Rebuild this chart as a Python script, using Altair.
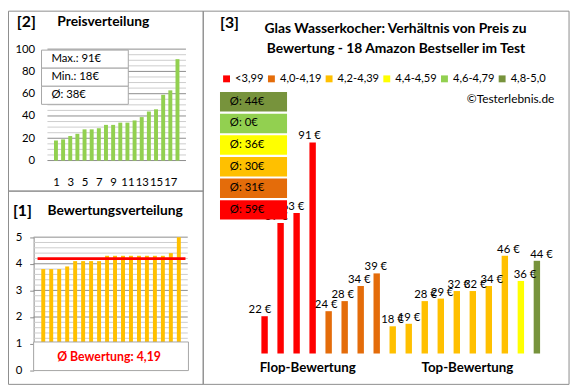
import altair as alt
import pandas as pd

# ---------------- data ----------------
rank = [1, 2, 3, 4, 5, 6, 7, 8, 9, 10, 11, 12, 13, 14, 15, 16, 17, 18]
prices_sorted = [18, 19, 22, 24, 28, 28, 29, 32, 32, 34, 34, 36, 39, 44, 46, 59, 63, 91]
ratings_sorted = [3.8, 3.8, 3.8, 3.9, 4.1, 4.1, 4.1, 4.1, 4.3, 4.3, 4.3, 4.3, 4.3, 4.3, 4.3, 4.3, 4.4, 5.0]
product_prices = [22, 59, 63, 91, 24, 28, 34, 39, 18, 19, 28, 29, 32, 32, 34, 46, 36, 44]
product_class = ["<3,99", "<3,99", "<3,99", "<3,99",
                 "4,0-4,19", "4,0-4,19", "4,0-4,19", "4,0-4,19",
                 "4,2-4,39", "4,2-4,39", "4,2-4,39", "4,2-4,39",
                 "4,2-4,39", "4,2-4,39", "4,2-4,39", "4,2-4,39",
                 "4,4-4,59", "4,8-5,0"]
classes = ["<3,99", "4,0-4,19", "4,2-4,39", "4,4-4,59", "4,6-4,79", "4,8-5,0"]
class_colors = ["#FF0000", "#E46C0A", "#FFC000", "#FFFF00", "#92D050", "#77933C"]

price_ticks = [0, 20, 40, 60, 80, 100]
price_minor = [5, 10, 15, 25, 30, 35, 45, 50, 55, 65, 70, 75, 85, 90, 95]
price_x_ticks = [1, 3, 5, 7, 9, 11, 13, 15, 17]
rating_ticks = [0, 1, 2, 3, 4, 5]
rating_major = [1, 2, 3, 4, 5]
rating_minor = [1.2, 1.4, 1.6, 1.8, 2.2, 2.4, 2.6, 2.8, 3.2, 3.4, 3.6, 3.8,
                4.2, 4.4, 4.6, 4.8]

# ---------------- style ----------------
FONT = "Lato"
BORDER = "#8c8c8c"
GMAJ = "#8c8c8c"
GMIN = "#cccccc"
W, H = 572, 382


def P(v):
    return v - 8


def one(**kw):
    return pd.DataFrame([kw])


def label(text, x, y, size, bold=True, align="left", color="black"):
    return alt.Chart(one(t=text)).mark_text(
        font=FONT, fontSize=size, fontWeight="bold" if bold else "normal",
        align=align, baseline="middle", color=color
    ).encode(x=alt.value(x), y=alt.value(y), text="t:N")


def box(x1, x2, y1, y2, fill="white", stroke=BORDER, op=1):
    return alt.Chart(one(a=1)).mark_rect(
        fill=fill, fillOpacity=op, stroke=stroke, strokeWidth=1
    ).encode(x=alt.value(x1), x2=alt.value(x2), y=alt.value(y1), y2=alt.value(y2))


layers = []

# ---------------- borders ----------------
layers += [
    box(0.5, P(206), 0.5, P(191), op=0),
    box(0.5, P(206), P(191), P(387), op=0),
    box(P(206), P(577), 0.5, P(387), op=0),
]

# ---------------- panel 2: Preisverteilung ----------------
def xs2():
    return alt.Scale(domain=[0.5, 18.5], range=[P(48), P(188.5)], nice=False, zero=False)


def ys2():
    return alt.Scale(domain=[0, 100], range=[P(160), P(47)], nice=False, zero=False)


d2 = pd.DataFrame({"rank": rank, "price": prices_sorted})
for vals, col in ((price_minor, GMIN), (price_ticks, GMAJ)):
    layers.append(alt.Chart(pd.DataFrame({"v": vals})).mark_rule(color=col).encode(
        y=alt.Y("v:Q", scale=ys2(), axis=None),
        x=alt.value(P(48)), x2=alt.value(P(188.5))))
layers.append(alt.Chart(d2).mark_bar(size=4, color="#92D050").encode(
    x=alt.X("rank:Q", scale=xs2(), axis=alt.Axis(
        orient="bottom", values=price_x_ticks, offset=P(182) - H, ticks=False, domain=False,
        grid=False, labelPadding=0, labelBaseline="middle", labelFont=FONT, labelFontSize=11.5,
        labelColor="black", labelOverlap=False, title=None)),
    y=alt.Y("price:Q", scale=ys2(), axis=alt.Axis(
        orient="left", values=price_ticks, offset=-P(37), ticks=False, domain=False,
        grid=False, labelPadding=2, labelFont=FONT, labelFontSize=11.5,
        labelColor="black", title=None)),
))

mean_price = sum(prices_sorted) / len(prices_sorted)
info2 = pd.DataFrame({
    "row": ["a", "b", "c"],
    "txt": [f"Max.: {max(prices_sorted)}€", f"Min.: {min(prices_sorted)}€",
            f"Ø: {round(mean_price)}€"],
})


def yb2():
    return alt.Scale(domain=["a", "b", "c"], range=[P(48), P(103)], paddingInner=0, paddingOuter=0)


layers.append(alt.Chart(info2).mark_rect(fill="white", stroke="#a6a6a6", strokeWidth=1).encode(
    y=alt.Y("row:N", scale=yb2(), axis=None), x=alt.value(P(42)), x2=alt.value(P(130))))
layers.append(alt.Chart(info2).mark_text(font=FONT, fontSize=11.5, align="left", baseline="middle",
                                         color="black").encode(
    y=alt.Y("row:N", scale=yb2(), axis=None), x=alt.value(P(52)), text="txt:N"))

# ---------------- panel 1: Bewertungsverteilung ----------------
def xs1():
    return alt.Scale(domain=[0.5, 18.5], range=[P(34.7), P(190.3)], nice=False, zero=False)


def ys1():
    return alt.Scale(domain=[0, 5], range=[P(372.7), P(237.7)], nice=False, zero=False)


d1 = pd.DataFrame({"rank": rank, "rating": ratings_sorted})
for vals, col in ((rating_minor, GMIN), (rating_major, GMAJ)):
    layers.append(alt.Chart(pd.DataFrame({"v": vals})).mark_rule(color=col).encode(
        y=alt.Y("v:Q", scale=ys1(), axis=None),
        x=alt.value(P(34)), x2=alt.value(P(190.3))))
layers.append(alt.Chart(d1).mark_bar(size=4, color="#FFC000").encode(
    x=alt.X("rank:Q", scale=xs1(), axis=None),
    y=alt.Y("rating:Q", scale=ys1(), axis=alt.Axis(
        orient="left", values=rating_ticks, offset=-P(34), ticks=True, tickSize=4,
        tickColor=GMAJ, domain=True, domainColor=GMAJ, grid=False, labelPadding=8,
        labelFont=FONT, labelFontSize=11.5, labelColor="black", title=None)),
))
mean_rating = sum(ratings_sorted) / len(ratings_sorted)
layers.append(alt.Chart(one(m=mean_rating)).mark_rule(color="#FF0000", strokeWidth=3).encode(
    y=alt.Y("m:Q", scale=ys1(), axis=None), x=alt.value(P(38)), x2=alt.value(P(188))))
mean_txt = f"Ø Bewertung: {mean_rating:.2f}".replace(".", ",")
layers.append(box(P(34), P(191), P(344), P(373), stroke="#a6a6a6"))
layers.append(label(mean_txt, P(110.5), P(359), 12.5, bold=True, align="center", color="#FF0000"))

# ---------------- panel 3: Preis vs. Bewertung ----------------
def xs3():
    return alt.Scale(domain=[0.5, 18.5], range=[P(255.1), P(557.5)], nice=False, zero=False)


def ys3():
    return alt.Scale(domain=[7.2, 100], range=[P(355.7), P(118.6)], nice=False, zero=False)


def cscale():
    return alt.Scale(domain=classes, range=class_colors)


d3 = pd.DataFrame({"pos": rank, "price": product_prices, "cls": product_class,
                   "lbl": [f"{p} €" for p in product_prices], "base": [7.2] * 18})
layers.append(alt.Chart(d3).mark_bar(size=6.5).encode(
    x=alt.X("pos:Q", scale=xs3(), axis=None),
    y=alt.Y("price:Q", scale=ys3(), axis=None),
    y2="base:Q",
    color=alt.Color("cls:N", scale=cscale(), legend=alt.Legend(
        orient="none", legendX=P(224), legendY=P(71.5), direction="horizontal", columns=6,
        gridAlign="none", title=None, symbolType="square", symbolSize=49, symbolStrokeWidth=0,
        labelFont=FONT, labelFontSize=11.3, labelColor="black", labelOffset=3,
        columnPadding=1.5, padding=0)),
))
layers.append(alt.Chart(d3).mark_text(font=FONT, fontSize=11.5, baseline="alphabetic", dy=-3,
                                      color="black").encode(
    x=alt.X("pos:Q", scale=xs3(), axis=None),
    y=alt.Y("price:Q", scale=ys3(), axis=None),
    text="lbl:N"))

avg_rows = []
for c in classes:
    vals = [p for p, k in zip(product_prices, product_class) if k == c]
    avg_rows.append({"cls": c, "txt": f"Ø: {round(sum(vals) / len(vals)) if vals else 0}€"})
d3avg = pd.DataFrame(avg_rows)


def yb3():
    return alt.Scale(domain=classes[::-1], range=[P(89.5), P(221)], paddingInner=0.1, paddingOuter=0.05)


layers.append(alt.Chart(d3avg).mark_rect().encode(
    y=alt.Y("cls:N", scale=yb3(), axis=None),
    x=alt.value(P(223)), x2=alt.value(P(291)),
    color=alt.Color("cls:N", scale=cscale(), legend=None)))
layers.append(alt.Chart(d3avg).mark_text(font=FONT, fontSize=11.5, align="left", baseline="middle",
                                         color="black").encode(
    y=alt.Y("cls:N", scale=yb3(), axis=None), x=alt.value(P(233)), text="txt:N"))

layers += [
    label("[2]", P(17), P(20), 16),
    label("Preisverteilung", P(58), P(20), 14),
    label("[1]", P(13), P(211), 16),
    label("Bewertungsverteilung", P(48), P(211), 14),
    label("[3]", P(223), P(20.5), 16),
    label("Glas Wasserkocher: Verhältnis von Preis zu", P(401), P(27), 14, align="center"),
    label("Bewertung - 18 Amazon Bestseller im Test", P(401.5), P(47), 14, align="center"),
    label("©Testerlebnis.de", P(562), P(98), 12, bold=False, align="right"),
    label("Flop-Bewertung", P(312), P(370), 13.5, align="center"),
    label("Top-Bewertung", P(474), P(370), 13.5, align="center"),
]

chart = alt.layer(*layers).resolve_scale(
    x="independent", y="independent", color="independent"
).properties(
    width=W, height=H, autosize=alt.AutoSizeParams(type="none"), padding=0
).configure_view(strokeWidth=0)

chart.save("out.html", embed_options={"renderer": "svg", "actions": False})
